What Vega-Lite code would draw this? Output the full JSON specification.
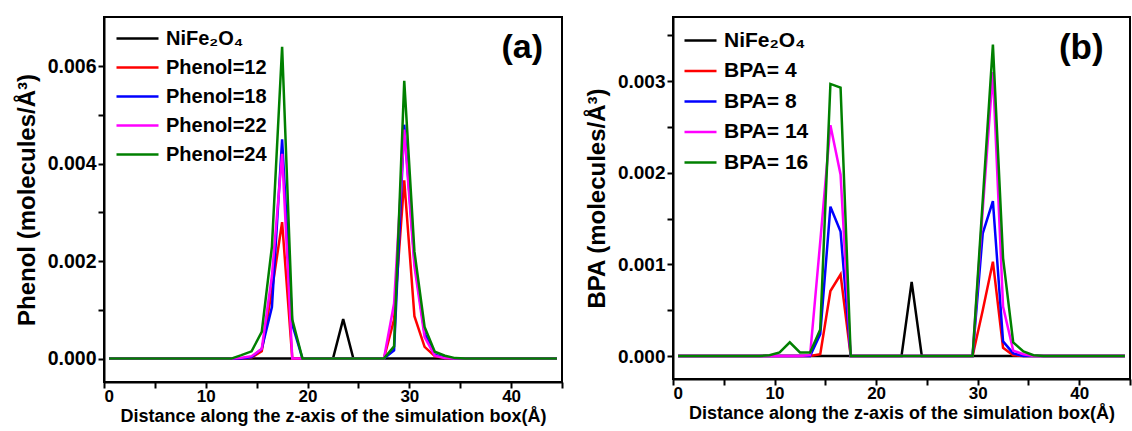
{
  "$schema": "https://vega.github.io/schema/vega-lite/v6.json",
  "padding": {"left": 14, "top": 16, "right": 0, "bottom": 0},
  "config": {
    "font": "Liberation Sans",
    "view": {"stroke": "black", "strokeWidth": 2},
    "axis": {
      "grid": false,
      "domainColor": "black", "domainWidth": 2,
      "tickColor": "black", "tickWidth": 2, "tickSize": 6,
      "labelFont": "Liberation Sans", "labelFontSize": 19, "labelFontWeight": "bold", "labelColor": "black", "labelPadding": 2,
      "titleFont": "Liberation Sans", "titleFontWeight": "bold", "titleColor": "black"
    },
    "legend": {
      "orient": "top-left", "padding": 0,
      "labelFont": "Liberation Sans", "labelFontWeight": "bold", "labelColor": "black",
      "symbolSize": 400, "symbolStrokeWidth": 2.5
    }
  },
  "datasets": {
    "lines": [
      {"p": "a", "s": "NiFe₂O₄", "x": 0.5, "y": 0},
      {"p": "a", "s": "NiFe₂O₄", "x": 22.5, "y": 0},
      {"p": "a", "s": "NiFe₂O₄", "x": 23.5, "y": 0.00081},
      {"p": "a", "s": "NiFe₂O₄", "x": 24.5, "y": 0},
      {"p": "a", "s": "NiFe₂O₄", "x": 44.5, "y": 0},

      {"p": "a", "s": "Phenol=12", "x": 0.5, "y": 0},
      {"p": "a", "s": "Phenol=12", "x": 13.5, "y": 0},
      {"p": "a", "s": "Phenol=12", "x": 14.5, "y": 0.00002},
      {"p": "a", "s": "Phenol=12", "x": 15.5, "y": 0.00015},
      {"p": "a", "s": "Phenol=12", "x": 16.5, "y": 0.0014},
      {"p": "a", "s": "Phenol=12", "x": 17.5, "y": 0.0028},
      {"p": "a", "s": "Phenol=12", "x": 18.5, "y": 0},
      {"p": "a", "s": "Phenol=12", "x": 27.5, "y": 0},
      {"p": "a", "s": "Phenol=12", "x": 28.5, "y": 0.0008},
      {"p": "a", "s": "Phenol=12", "x": 29.5, "y": 0.00366},
      {"p": "a", "s": "Phenol=12", "x": 30.5, "y": 0.00087},
      {"p": "a", "s": "Phenol=12", "x": 31.5, "y": 0.00024},
      {"p": "a", "s": "Phenol=12", "x": 32.5, "y": 0.00005},
      {"p": "a", "s": "Phenol=12", "x": 33.5, "y": 0.00001},
      {"p": "a", "s": "Phenol=12", "x": 34.5, "y": 0},
      {"p": "a", "s": "Phenol=12", "x": 44.5, "y": 0},

      {"p": "a", "s": "Phenol=18", "x": 0.5, "y": 0},
      {"p": "a", "s": "Phenol=18", "x": 13.5, "y": 0},
      {"p": "a", "s": "Phenol=18", "x": 14.5, "y": 0.00003},
      {"p": "a", "s": "Phenol=18", "x": 15.5, "y": 0.0002},
      {"p": "a", "s": "Phenol=18", "x": 16.5, "y": 0.00106},
      {"p": "a", "s": "Phenol=18", "x": 17.5, "y": 0.0045},
      {"p": "a", "s": "Phenol=18", "x": 18.5, "y": 0.0007},
      {"p": "a", "s": "Phenol=18", "x": 19.5, "y": 0},
      {"p": "a", "s": "Phenol=18", "x": 27.5, "y": 0},
      {"p": "a", "s": "Phenol=18", "x": 28.5, "y": 0.00017},
      {"p": "a", "s": "Phenol=18", "x": 29.5, "y": 0.0048},
      {"p": "a", "s": "Phenol=18", "x": 30.5, "y": 0.002},
      {"p": "a", "s": "Phenol=18", "x": 31.5, "y": 0.00052},
      {"p": "a", "s": "Phenol=18", "x": 32.5, "y": 0.00008},
      {"p": "a", "s": "Phenol=18", "x": 33.5, "y": 0.00002},
      {"p": "a", "s": "Phenol=18", "x": 34.5, "y": 0},
      {"p": "a", "s": "Phenol=18", "x": 44.5, "y": 0},

      {"p": "a", "s": "Phenol=22", "x": 0.5, "y": 0},
      {"p": "a", "s": "Phenol=22", "x": 12.5, "y": 0},
      {"p": "a", "s": "Phenol=22", "x": 13.5, "y": 0.00002},
      {"p": "a", "s": "Phenol=22", "x": 14.5, "y": 0.00005},
      {"p": "a", "s": "Phenol=22", "x": 15.5, "y": 0.0002},
      {"p": "a", "s": "Phenol=22", "x": 16.5, "y": 0.0017},
      {"p": "a", "s": "Phenol=22", "x": 17.5, "y": 0.0042},
      {"p": "a", "s": "Phenol=22", "x": 18.5, "y": 0},
      {"p": "a", "s": "Phenol=22", "x": 27.5, "y": 0},
      {"p": "a", "s": "Phenol=22", "x": 28.5, "y": 0.00113},
      {"p": "a", "s": "Phenol=22", "x": 29.5, "y": 0.0047},
      {"p": "a", "s": "Phenol=22", "x": 30.5, "y": 0.0019},
      {"p": "a", "s": "Phenol=22", "x": 31.5, "y": 0.00044},
      {"p": "a", "s": "Phenol=22", "x": 32.5, "y": 0.00006},
      {"p": "a", "s": "Phenol=22", "x": 33.5, "y": 0.00001},
      {"p": "a", "s": "Phenol=22", "x": 34.5, "y": 0},
      {"p": "a", "s": "Phenol=22", "x": 44.5, "y": 0},

      {"p": "a", "s": "Phenol=24", "x": 0.5, "y": 0},
      {"p": "a", "s": "Phenol=24", "x": 12.5, "y": 0},
      {"p": "a", "s": "Phenol=24", "x": 13.5, "y": 0.00007},
      {"p": "a", "s": "Phenol=24", "x": 14.5, "y": 0.00015},
      {"p": "a", "s": "Phenol=24", "x": 15.5, "y": 0.00055},
      {"p": "a", "s": "Phenol=24", "x": 16.5, "y": 0.0023},
      {"p": "a", "s": "Phenol=24", "x": 17.5, "y": 0.0064},
      {"p": "a", "s": "Phenol=24", "x": 18.5, "y": 0.0008},
      {"p": "a", "s": "Phenol=24", "x": 19.5, "y": 0},
      {"p": "a", "s": "Phenol=24", "x": 27.5, "y": 0},
      {"p": "a", "s": "Phenol=24", "x": 28.5, "y": 0.00025},
      {"p": "a", "s": "Phenol=24", "x": 29.5, "y": 0.0057},
      {"p": "a", "s": "Phenol=24", "x": 30.5, "y": 0.0022},
      {"p": "a", "s": "Phenol=24", "x": 31.5, "y": 0.00065},
      {"p": "a", "s": "Phenol=24", "x": 32.5, "y": 0.00014},
      {"p": "a", "s": "Phenol=24", "x": 33.5, "y": 0.00006},
      {"p": "a", "s": "Phenol=24", "x": 34.5, "y": 0.00001},
      {"p": "a", "s": "Phenol=24", "x": 35.5, "y": 0},
      {"p": "a", "s": "Phenol=24", "x": 44.5, "y": 0},

      {"p": "b", "s": "NiFe₂O₄", "x": 0.5, "y": 0},
      {"p": "b", "s": "NiFe₂O₄", "x": 22.5, "y": 0},
      {"p": "b", "s": "NiFe₂O₄", "x": 23.5, "y": 0.00081},
      {"p": "b", "s": "NiFe₂O₄", "x": 24.5, "y": 0},
      {"p": "b", "s": "NiFe₂O₄", "x": 44.5, "y": 0},

      {"p": "b", "s": "BPA= 4", "x": 0.5, "y": 0},
      {"p": "b", "s": "BPA= 4", "x": 13.5, "y": 0},
      {"p": "b", "s": "BPA= 4", "x": 14.5, "y": 0.00002},
      {"p": "b", "s": "BPA= 4", "x": 15.5, "y": 0.00071},
      {"p": "b", "s": "BPA= 4", "x": 16.5, "y": 0.00089},
      {"p": "b", "s": "BPA= 4", "x": 17.5, "y": 0},
      {"p": "b", "s": "BPA= 4", "x": 29.5, "y": 0},
      {"p": "b", "s": "BPA= 4", "x": 30.5, "y": 0.0005},
      {"p": "b", "s": "BPA= 4", "x": 31.5, "y": 0.00103},
      {"p": "b", "s": "BPA= 4", "x": 32.5, "y": 0.00009},
      {"p": "b", "s": "BPA= 4", "x": 33.5, "y": 0.00001},
      {"p": "b", "s": "BPA= 4", "x": 34.5, "y": 0},
      {"p": "b", "s": "BPA= 4", "x": 44.5, "y": 0},

      {"p": "b", "s": "BPA= 8", "x": 0.5, "y": 0},
      {"p": "b", "s": "BPA= 8", "x": 13.5, "y": 0},
      {"p": "b", "s": "BPA= 8", "x": 14.5, "y": 0.00024},
      {"p": "b", "s": "BPA= 8", "x": 15.5, "y": 0.00163},
      {"p": "b", "s": "BPA= 8", "x": 16.5, "y": 0.00136},
      {"p": "b", "s": "BPA= 8", "x": 17.5, "y": 0},
      {"p": "b", "s": "BPA= 8", "x": 29.5, "y": 0},
      {"p": "b", "s": "BPA= 8", "x": 30.5, "y": 0.00134},
      {"p": "b", "s": "BPA= 8", "x": 31.5, "y": 0.00169},
      {"p": "b", "s": "BPA= 8", "x": 32.5, "y": 0.00016},
      {"p": "b", "s": "BPA= 8", "x": 33.5, "y": 0.00003},
      {"p": "b", "s": "BPA= 8", "x": 34.5, "y": 0},
      {"p": "b", "s": "BPA= 8", "x": 44.5, "y": 0},

      {"p": "b", "s": "BPA= 14", "x": 0.5, "y": 0},
      {"p": "b", "s": "BPA= 14", "x": 12.5, "y": 0},
      {"p": "b", "s": "BPA= 14", "x": 13.5, "y": 0.00001},
      {"p": "b", "s": "BPA= 14", "x": 14.5, "y": 0.00125},
      {"p": "b", "s": "BPA= 14", "x": 15.5, "y": 0.00252},
      {"p": "b", "s": "BPA= 14", "x": 16.5, "y": 0.00198},
      {"p": "b", "s": "BPA= 14", "x": 17.5, "y": 0},
      {"p": "b", "s": "BPA= 14", "x": 29.5, "y": 0},
      {"p": "b", "s": "BPA= 14", "x": 30.5, "y": 0.0016},
      {"p": "b", "s": "BPA= 14", "x": 31.5, "y": 0.0031},
      {"p": "b", "s": "BPA= 14", "x": 32.5, "y": 0.00054},
      {"p": "b", "s": "BPA= 14", "x": 33.5, "y": 0.00006},
      {"p": "b", "s": "BPA= 14", "x": 34.5, "y": 0.00002},
      {"p": "b", "s": "BPA= 14", "x": 35.5, "y": 0},
      {"p": "b", "s": "BPA= 14", "x": 44.5, "y": 0},

      {"p": "b", "s": "BPA= 16", "x": 0.5, "y": 0},
      {"p": "b", "s": "BPA= 16", "x": 8.5, "y": 0},
      {"p": "b", "s": "BPA= 16", "x": 9.5, "y": 0.00001},
      {"p": "b", "s": "BPA= 16", "x": 10.5, "y": 0.00004},
      {"p": "b", "s": "BPA= 16", "x": 11.5, "y": 0.00015},
      {"p": "b", "s": "BPA= 16", "x": 12.5, "y": 0.00004},
      {"p": "b", "s": "BPA= 16", "x": 13.5, "y": 0.00004},
      {"p": "b", "s": "BPA= 16", "x": 14.5, "y": 0.00029},
      {"p": "b", "s": "BPA= 16", "x": 15.5, "y": 0.00297},
      {"p": "b", "s": "BPA= 16", "x": 16.5, "y": 0.00293},
      {"p": "b", "s": "BPA= 16", "x": 17.5, "y": 0},
      {"p": "b", "s": "BPA= 16", "x": 29.5, "y": 0},
      {"p": "b", "s": "BPA= 16", "x": 30.5, "y": 0.0017},
      {"p": "b", "s": "BPA= 16", "x": 31.5, "y": 0.0034},
      {"p": "b", "s": "BPA= 16", "x": 32.5, "y": 0.00107},
      {"p": "b", "s": "BPA= 16", "x": 33.5, "y": 0.00015},
      {"p": "b", "s": "BPA= 16", "x": 34.5, "y": 0.00005},
      {"p": "b", "s": "BPA= 16", "x": 35.5, "y": 0.00001},
      {"p": "b", "s": "BPA= 16", "x": 36.5, "y": 0},
      {"p": "b", "s": "BPA= 16", "x": 44.5, "y": 0}
    ],
    "tags": [
      {"p": "a", "t": "(a)", "x": 41.1, "y": 0.00637},
      {"p": "b", "t": "(b)", "x": 40.2, "y": 0.00336}
    ]
  },
  "hconcat": [
    {
      "width": 458,
      "height": 365,
      "layer": [
        {
          "data": {"name": "lines"},
          "transform": [{"filter": "datum.p === 'a'"}],
          "mark": {"type": "line", "strokeWidth": 2.5},
          "encoding": {
            "x": {"field": "x", "type": "quantitative",
              "scale": {"domain": [0, 45], "nice": false, "zero": false},
              "axis": {"title": "Distance along the z-axis of the simulation box(Å)", "titleFontSize": 18, "titlePadding": 3,
                "labelFontSize": 17, "labelPadding": 0,
                "values": [0, 5, 10, 15, 20, 25, 30, 35, 40, 45],
                "labelExpr": "datum.value % 10 === 0 ? datum.label : ''"}},
            "y": {"field": "y", "type": "quantitative",
              "scale": {"domain": [-0.00048, 0.00701], "nice": false, "zero": false},
              "axis": {"title": "Phenol (molecules/Å³)", "titleFontSize": 24, "titlePadding": 8,
                "labelFontSize": 19.5,
                "values": [0, 0.001, 0.002, 0.003, 0.004, 0.005, 0.006],
                "labelExpr": "round(datum.value * 1000) % 2 === 0 ? format(datum.value, '.3f') : ''"}},
            "color": {"field": "s", "type": "nominal",
              "scale": {"domain": ["NiFe₂O₄", "Phenol=12", "Phenol=18", "Phenol=22", "Phenol=24"],
                "range": ["#000000", "#ff0000", "#0000ff", "#ff00ff", "#008000"]},
              "legend": {"title": null, "offset": 10, "symbolType": "M-0.9,0L3.3,0", "labelOffset": 29, "labelFontSize": 20, "rowPadding": 7}}
          }
        },
        {
          "data": {"name": "tags"},
          "transform": [{"filter": "datum.p === 'a'"}],
          "mark": {"type": "text", "fontSize": 34, "fontWeight": "bold", "font": "Liberation Sans", "color": "black", "baseline": "middle", "align": "center"},
          "encoding": {
            "x": {"field": "x", "type": "quantitative"},
            "y": {"field": "y", "type": "quantitative"},
            "text": {"field": "t"}
          }
        }
      ]
    },
    {
      "width": 457,
      "height": 362,
      "layer": [
        {
          "data": {"name": "lines"},
          "transform": [{"filter": "datum.p === 'b'"}],
          "mark": {"type": "line", "strokeWidth": 2.5},
          "encoding": {
            "x": {"field": "x", "type": "quantitative",
              "scale": {"domain": [0, 45], "nice": false, "zero": false},
              "axis": {"title": "Distance along the z-axis of the simulation box(Å)", "titleFontSize": 18, "titlePadding": 3,
                "labelFontSize": 17, "labelPadding": 0,
                "values": [0, 5, 10, 15, 20, 25, 30, 35, 40, 45],
                "labelExpr": "datum.value % 10 === 0 ? datum.label : ''"}},
            "y": {"field": "y", "type": "quantitative",
              "scale": {"domain": [-0.00025, 0.0037], "nice": false, "zero": false},
              "axis": {"title": "BPA (molecules/Å³)", "titleFontSize": 24, "titlePadding": 8,
                "labelFontSize": 19,
                "values": [0, 0.0005, 0.001, 0.0015, 0.002, 0.0025, 0.003, 0.0035],
                "labelExpr": "round(datum.value * 2000) % 2 === 0 ? format(datum.value, '.3f') : ''"}},
            "color": {"field": "s", "type": "nominal",
              "scale": {"domain": ["NiFe₂O₄", "BPA= 4", "BPA= 8", "BPA= 14", "BPA= 16"],
                "range": ["#000000", "#ff0000", "#0000ff", "#ff00ff", "#008000"]},
              "legend": {"title": null, "offset": 12, "symbolType": "M-1.2,0L2,0", "labelOffset": 16, "labelFontSize": 21, "rowPadding": 8.5}}
          }
        },
        {
          "data": {"name": "tags"},
          "transform": [{"filter": "datum.p === 'b'"}],
          "mark": {"type": "text", "fontSize": 35, "fontWeight": "bold", "font": "Liberation Sans", "color": "black", "baseline": "middle", "align": "center"},
          "encoding": {
            "x": {"field": "x", "type": "quantitative"},
            "y": {"field": "y", "type": "quantitative"},
            "text": {"field": "t"}
          }
        }
      ]
    }
  ],
  "spacing": 20,
  "resolve": {"scale": {"color": "independent", "x": "independent", "y": "independent"}}
}
